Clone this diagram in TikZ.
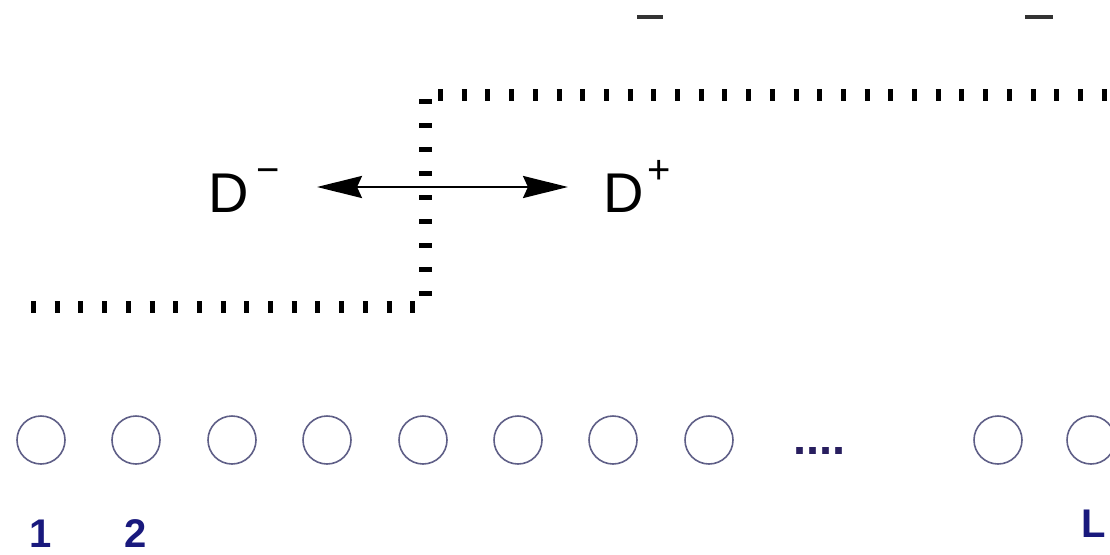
\documentclass[tikz,border=0pt]{standalone}
\usepackage{fontspec}
\setmainfont{Liberation Sans}
\usetikzlibrary{arrows.meta}
\definecolor{ringc}{RGB}{95,95,135}
\definecolor{navy}{RGB}{25,25,125}
\definecolor{dotc}{RGB}{40,30,95}
\begin{document}
\begin{tikzpicture}[x=1pt,y=-1pt,
  ring/.style={circle,draw=ringc,line width=1.6pt,minimum size=48pt,inner sep=0pt},
  num/.style={font=\fontsize{40}{40}\bfseries\selectfont,text=navy,inner sep=0pt},
  dlabel/.style={font=\fontsize{56}{56}\selectfont,inner sep=0pt},
  wallh/.style={line width=12pt,dash pattern=on 5pt off 18.7pt},
  wallv/.style={line width=13pt,dash pattern=on 4.5pt off 19.5pt},
  biarrow/.style={line width=2.4pt,{Stealth[length=45pt,width=22pt,inset=5pt]}-{Stealth[length=45pt,width=22pt,inset=5pt]}},
  cutmark/.style={line width=4pt,draw=black!80}]
\useasboundingbox (0,0) rectangle (1110,554);
% cut-off marks at the top
\draw[cutmark] (637,17) -- (663,17);
\draw[cutmark] (1025,17) -- (1053,17);
% dotted step wall
\coordinate (w1) at (31,307);
\coordinate (w2) at (421,307);
\coordinate (w3) at (425,99);
\coordinate (w4) at (425,297);
\coordinate (w5) at (438,95);
\coordinate (w6) at (1110,95);
\draw[wallh] (w1) -- (w2);
\draw[wallv] (w3) -- (w4);
\draw[wallh] (w5) -- (w6);
% labels and arrow
\node[dlabel,anchor=base west] (Dm) at (208,212) {D\hspace{8pt}\raisebox{29pt}{\fontsize{40}{40}\selectfont −}};
\node[dlabel,anchor=base west] (Dp) at (603,212) {D\hspace{4pt}\raisebox{29pt}{\fontsize{40}{40}\selectfont +}};
\coordinate (al) at (317,187);
\coordinate (ar) at (568,187);
\draw[biarrow] (al) -- (ar);
% sites
\foreach \i/\x in {1/41,2/136,3/232,4/327,5/423,6/518,7/613,8/709,9/998,10/1091}
  \node[ring] (c\i) at (\x,440) {};
\node[font=\fontsize{47}{47}\bfseries\selectfont,text=dotc,inner sep=0pt,anchor=base west] (dots) at (793,454) {....};
\node[num,anchor=base] (n1) at (c1.center |- 0,547) {1};
\node[num,anchor=base] (n2) at (c2.center |- 0,547) {2};
\node[num,anchor=base west] (nL) at (1081,537) {L};
\end{tikzpicture}
\end{document}
